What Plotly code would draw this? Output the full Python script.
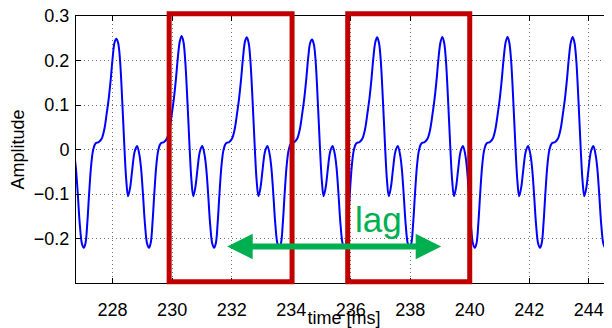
import plotly.graph_objects as go

# ---- waveform samples (time in ms, amplitude) ----
t_c0 = [226.63, 226.71, 226.77, 226.83, 226.90, 226.97, 227.03, 227.09, 227.15, 227.21, 227.28,
        227.35, 227.43, 227.54, 227.63, 227.72, 227.80, 227.87, 227.94, 228.00, 228.07]
a_c0 = [0.008, -0.012, -0.045, -0.100, -0.170, -0.212, -0.221, -0.210, -0.165, -0.100, -0.035,
        0.000, 0.014, 0.017, 0.024, 0.045, 0.080, 0.115, 0.160, 0.205, 0.242]

t_c1 = [228.13, 228.19, 228.25, 228.33, 228.40, 228.46, 228.52, 228.59, 228.66, 228.74, 228.82,
        228.90, 228.96, 229.02, 229.09, 229.16, 229.22, 229.28, 229.34, 229.40, 229.47, 229.54,
        229.62, 229.73, 229.82, 229.91, 229.99, 230.06, 230.13, 230.19, 230.26]
a_c1 = [0.249, 0.238, 0.200, 0.100, 0.000, -0.070, -0.105, -0.085, -0.045, -0.005, 0.008,
        -0.012, -0.045, -0.100, -0.170, -0.212, -0.221, -0.210, -0.165, -0.100, -0.035, 0.000,
        0.014, 0.017, 0.024, 0.045, 0.080, 0.115, 0.160, 0.205, 0.244]

t_c2 = [230.32, 230.38, 230.44, 230.52, 230.59, 230.65, 230.71, 230.78, 230.85, 230.93, 231.01,
        231.09, 231.15, 231.21, 231.28, 231.35, 231.41, 231.47, 231.53, 231.59, 231.66, 231.73,
        231.81, 231.92, 232.01, 232.10, 232.18, 232.25, 232.32, 232.38, 232.45]
a_c2 = [0.255, 0.242, 0.200, 0.100, 0.000, -0.070, -0.105, -0.085, -0.045, -0.005, 0.008,
        -0.012, -0.045, -0.100, -0.170, -0.212, -0.221, -0.210, -0.165, -0.100, -0.035, 0.000,
        0.014, 0.017, 0.024, 0.045, 0.080, 0.115, 0.160, 0.205, 0.243]

t_c3 = [232.51, 232.57, 232.63, 232.71, 232.78, 232.84, 232.90, 232.97, 233.04, 233.12, 233.20,
        233.28, 233.34, 233.40, 233.47, 233.54, 233.60, 233.66, 233.72, 233.78, 233.85, 233.92,
        234.00, 234.11, 234.20, 234.29, 234.37, 234.44, 234.51, 234.57, 234.64]
a_c3 = [0.252, 0.240, 0.200, 0.100, 0.000, -0.070, -0.105, -0.085, -0.045, -0.005, 0.008,
        -0.012, -0.045, -0.100, -0.170, -0.212, -0.221, -0.210, -0.165, -0.100, -0.035, 0.000,
        0.014, 0.017, 0.024, 0.045, 0.080, 0.115, 0.160, 0.205, 0.240]

t_c4 = [234.70, 234.76, 234.82, 234.90, 234.97, 235.03, 235.09, 235.16, 235.23, 235.31, 235.39,
        235.47, 235.53, 235.59, 235.66, 235.73, 235.79, 235.85, 235.91, 235.97, 236.04, 236.11,
        236.19, 236.30, 236.39, 236.48, 236.56, 236.63, 236.70, 236.76, 236.83]
a_c4 = [0.247, 0.237, 0.200, 0.100, 0.000, -0.070, -0.105, -0.085, -0.045, -0.005, 0.008,
        -0.012, -0.045, -0.100, -0.170, -0.212, -0.221, -0.210, -0.165, -0.100, -0.035, 0.000,
        0.014, 0.017, 0.024, 0.045, 0.080, 0.115, 0.160, 0.205, 0.242]

t_c5 = [236.89, 236.95, 237.01, 237.09, 237.16, 237.22, 237.28, 237.35, 237.42, 237.50, 237.58,
        237.66, 237.72, 237.78, 237.85, 237.92, 237.98, 238.04, 238.10, 238.16, 238.23, 238.30,
        238.38, 238.49, 238.58, 238.67, 238.75, 238.82, 238.89, 238.95, 239.02]
a_c5 = [0.252, 0.240, 0.200, 0.100, 0.000, -0.070, -0.105, -0.085, -0.045, -0.005, 0.008,
        -0.012, -0.045, -0.100, -0.170, -0.212, -0.221, -0.210, -0.165, -0.100, -0.035, 0.000,
        0.014, 0.017, 0.024, 0.045, 0.080, 0.115, 0.160, 0.205, 0.242]

t_c6 = [239.08, 239.14, 239.20, 239.28, 239.35, 239.41, 239.47, 239.54, 239.61, 239.69, 239.77,
        239.85, 239.91, 239.97, 240.04, 240.11, 240.17, 240.23, 240.29, 240.35, 240.42, 240.49,
        240.57, 240.68, 240.77, 240.86, 240.94, 241.01, 241.08, 241.14, 241.21]
a_c6 = [0.253, 0.240, 0.200, 0.100, 0.000, -0.070, -0.105, -0.085, -0.045, -0.005, 0.008,
        -0.012, -0.045, -0.100, -0.170, -0.212, -0.221, -0.210, -0.165, -0.100, -0.035, 0.000,
        0.014, 0.017, 0.024, 0.045, 0.080, 0.115, 0.160, 0.205, 0.242]

t_c7 = [241.27, 241.33, 241.39, 241.47, 241.54, 241.60, 241.66, 241.73, 241.80, 241.88, 241.96,
        242.04, 242.10, 242.16, 242.23, 242.30, 242.36, 242.42, 242.48, 242.54, 242.61, 242.68,
        242.76, 242.87, 242.96, 243.05, 243.13, 243.20, 243.27, 243.33, 243.40]
a_c7 = [0.253, 0.240, 0.200, 0.100, 0.000, -0.070, -0.105, -0.085, -0.045, -0.005, 0.008,
        -0.012, -0.045, -0.100, -0.170, -0.212, -0.221, -0.210, -0.165, -0.100, -0.035, 0.000,
        0.014, 0.017, 0.024, 0.045, 0.080, 0.115, 0.160, 0.205, 0.242]

t_c8 = [243.46, 243.52, 243.58, 243.66, 243.73, 243.79, 243.85, 243.92, 243.99, 244.07, 244.15,
        244.23, 244.29, 244.35, 244.42, 244.49, 244.55, 244.61, 244.67, 244.73, 244.80, 244.87,
        244.95]
a_c8 = [0.253, 0.240, 0.200, 0.100, 0.000, -0.070, -0.105, -0.085, -0.045, -0.005, 0.008,
        -0.012, -0.045, -0.100, -0.170, -0.212, -0.221, -0.210, -0.165, -0.100, -0.035, 0.000,
        0.014]

time_ms = t_c0 + t_c1 + t_c2 + t_c3 + t_c4 + t_c5 + t_c6 + t_c7 + t_c8
amplitude = a_c0 + a_c1 + a_c2 + a_c3 + a_c4 + a_c5 + a_c6 + a_c7 + a_c8

# ---- axes ----
x_range = [226.77, 244.78]
y_range = [-0.3, 0.3]
x_ticks = [228, 230, 232, 234, 236, 238, 240, 242, 244]
x_tick_labels = ["228", "230", "232", "234", "236", "238", "240", "242", "244"]
y_ticks = [-0.2, -0.1, 0, 0.1, 0.2, 0.3]
y_tick_labels = ["\u22120.2", "\u22120.1", "0", "0.1", "0.2", "0.3"]

# ---- annotations ----
window_starts = [229.90, 235.90]
window_ends = [234.03, 240.00]
lag_start = 231.80
lag_end = 239.04
lag_level = -0.218
lag_text = "lag"
lag_text_x = 236.93
lag_text_y = -0.158

FONT = "Liberation Sans, Arial, Helvetica, sans-serif"
BLUE = "#0000FF"
RED = "#C00000"
GREEN = "#00B050"

fig = go.Figure()
fig.add_trace(go.Scatter(
    x=time_ms, y=amplitude, mode="lines",
    line=dict(color=BLUE, width=2, shape="spline", smoothing=1.0),
    showlegend=False, hoverinfo="skip",
))

for x0, x1 in zip(window_starts, window_ends):
    fig.add_shape(type="rect", xref="x", yref="paper", x0=x0, x1=x1, y0=0.005, y1=1.008,
                  line=dict(color=RED, width=5), fillcolor="rgba(0,0,0,0)", layer="above")

fig.add_annotation(x=lag_end, y=lag_level, ax=lag_start, ay=lag_level,
                   xref="x", yref="y", axref="x", ayref="y", text="",
                   showarrow=True, arrowhead=2, startarrowhead=2, arrowside="end+start",
                   arrowwidth=6, arrowsize=0.85, startarrowsize=0.85, arrowcolor=GREEN,
                   standoff=0, startstandoff=0)
fig.add_annotation(x=lag_text_x, y=lag_text_y, xref="x", yref="y", text=lag_text,
                   showarrow=False, font=dict(family=FONT, size=35, color=GREEN),
                   xanchor="center", yanchor="middle")

axis_common = dict(
    showline=True, linecolor="black", linewidth=1,
    ticks="inside", ticklen=5, tickwidth=1, tickcolor="black",
    showgrid=True, gridcolor="#707070", gridwidth=1, griddash="1px,3px",
    zeroline=False, automargin=False, ticklabeloverflow="allow",
    tickfont=dict(family=FONT, size=18, color="black"),
)

fig.update_xaxes(range=x_range, tickvals=x_ticks, ticktext=x_tick_labels, mirror="ticks",
                 ticklabelstandoff=10,
                 title=dict(text="time [ms]", font=dict(family=FONT, size=18, color="black"), standoff=4),
                 **axis_common)
fig.update_yaxes(range=y_range, tickvals=y_ticks, ticktext=y_tick_labels, mirror=False,
                 ticklabelstandoff=2,
                 title=dict(text="Amplitude", font=dict(family=FONT, size=18, color="black"), standoff=6),
                 **axis_common)

# the page body adds an 8 px offset, so the figure is 8 px smaller than the window
fig.update_layout(
    width=604, height=320,
    margin=dict(l=68, r=0, t=8, b=45, pad=0),
    plot_bgcolor="white", paper_bgcolor="white",
    font=dict(family=FONT, color="black"),
)

fig.write_html("out.html")
